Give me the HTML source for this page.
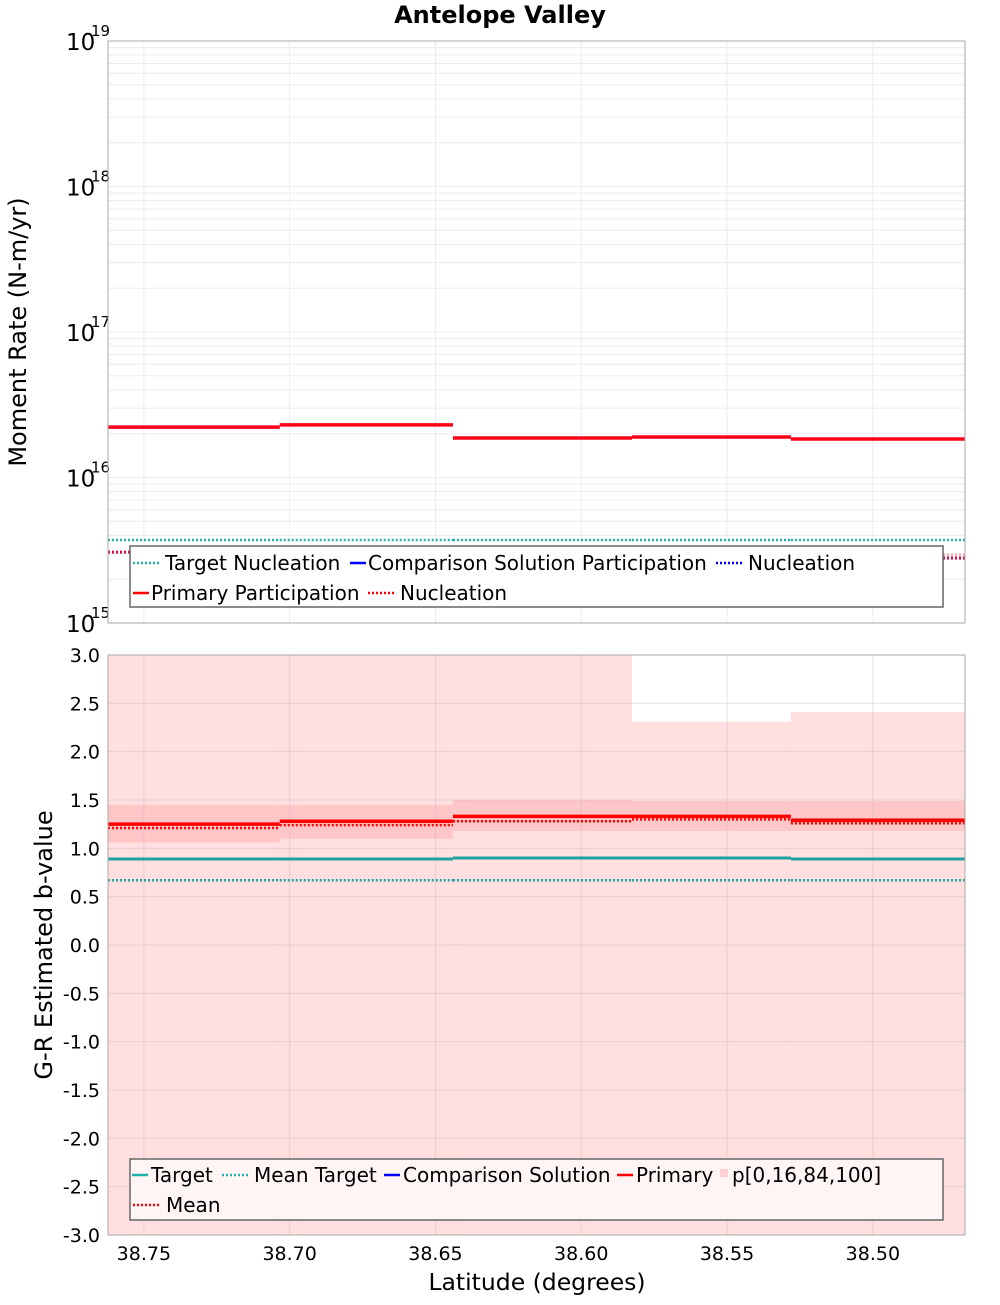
<!DOCTYPE html>
<html><head><meta charset="utf-8"><style>
html,body{margin:0;padding:0;background:#fff;}
svg text{font-family:"DejaVu Sans","Liberation Sans",sans-serif;}
</style></head><body>
<svg id="chart" width="1000" height="1300" xmlns="http://www.w3.org/2000/svg">
<text x="500" y="23" text-anchor="middle" font-size="24" font-weight="bold">Antelope Valley</text>
<g id="p1"></g>
<g id="p2"></g>
</svg>
<script>
// shared x data (latitude bin edges)
const binEdges = [38.7623, 38.7034, 38.6440, 38.5826, 38.5281, 38.4684];
const xTicks = [38.75, 38.70, 38.65, 38.60, 38.55, 38.50];
// panel 1: moment rates
const primaryPart = [2.22e16, 2.30e16, 1.87e16, 1.90e16, 1.84e16];
const nucleation = [3.07e15, 3.23e15, 2.93e15, 2.93e15, 2.93e15];
const targetNucleation = [3.72e15, 3.72e15, 3.72e15, 3.72e15, 3.72e15];
const logTicks = [15, 16, 17, 18, 19];
// panel 2: b-values
const bTarget = [0.89, 0.89, 0.90, 0.90, 0.89];
const bMeanTarget = [0.67, 0.67, 0.67, 0.67, 0.67];
const bPrimary = [1.25, 1.28, 1.33, 1.33, 1.29];
const bMean = [1.21, 1.24, 1.28, 1.30, 1.26];
const bP16 = [1.06, 1.10, 1.18, 1.18, 1.18];
const bP84 = [1.45, 1.45, 1.50, 1.49, 1.49];
const bP0 = [-3.0, -3.0, -3.0, -3.0, -3.0];
const bP100 = [3.0, 3.0, 3.0, 2.31, 2.41];
const bTicks = [3.0,2.5,2.0,1.5,1.0,0.5,0.0,-0.5,-1.0,-1.5,-2.0,-2.5,-3.0];

const NS="http://www.w3.org/2000/svg";
const L=108,R=965;
const xS=v=>L+(binEdges[0]-v)/(binEdges[0]-binEdges[5])*(R-L);
const P1T=41,P1B=623,P2T=655,P2B=1235;
const y1=v=>P1B-(Math.log10(v)-15)/4*(P1B-P1T);
const y2=v=>P2B-(v+3)/6*(P2B-P2T);
function mk(p,tag,a){const e=document.createElementNS(NS,tag);for(const k in a)e.setAttribute(k,a[k]);p.appendChild(e);return e;}
function steps(arr,yf){let d="";arr.forEach((v,i)=>{d+="M"+xS(binEdges[i])+","+yf(v)+"L"+xS(binEdges[i+1])+","+yf(v);});return d;}
const g1=document.getElementById('p1'),g2=document.getElementById('p2');

// panel 1 frame + grid
let e=mk(g1,'rect',{x:L,y:P1T,width:R-L,height:P1B-P1T,fill:'#fff'});


for(let d=15;d<19;d++)for(let m=1;m<10;m++){const yy=y1(m*Math.pow(10,d));mk(g1,'line',{x1:L,x2:R,y1:yy,y2:yy,stroke:'#ececec','stroke-width':1});}
xTicks.forEach(t=>{mk(g1,'line',{x1:xS(t),x2:xS(t),y1:P1T,y2:P1B,stroke:'#ececec'});});
logTicks.forEach(t=>{const yy=y1(Math.pow(10,t));
 const tx=mk(g1,'text',{x:66,y:yy+9,'font-size':23});tx.textContent="10";
 
 
 const s=mk(g1,'text',{x:91,y:yy-5,'font-size':15});s.textContent=String(t);});
e=mk(g1,'path',{d:steps(targetNucleation,y1),stroke:'#20b2aa',fill:'none','stroke-width':2.5,'stroke-dasharray':'2,2'});


e=mk(g1,'path',{d:steps(nucleation,y1),stroke:'#f7a8b8',fill:'none','stroke-width':3,'stroke-dasharray':'2,2'});


mk(g1,'line',{x1:L,x2:L+22,y1:y1(nucleation[0]),y2:y1(nucleation[0]),stroke:'#d0104a','stroke-width':3,'stroke-dasharray':'2,2'});
mk(g1,'line',{x1:R-22,x2:R,y1:y1(nucleation[4])+3,y2:y1(nucleation[4])+3,stroke:'#d0104a','stroke-width':3,'stroke-dasharray':'2,2'});
e=mk(g1,'path',{d:steps(primaryPart,y1),stroke:'#ff0019',fill:'none','stroke-width':3.5});


mk(g1,'rect',{x:L,y:P1T,width:R-L,height:P1B-P1T,fill:'none',stroke:'#aaa'});
e=mk(g1,'text',{x:26,y:332,'font-size':24,'text-anchor':'middle',transform:'rotate(-90 26 332)'});e.textContent="Moment Rate (N-m/yr)";


// legend 1
e=mk(g1,'rect',{x:130,y:546,width:813,height:61,fill:'#fff',stroke:'#666','stroke-width':1.5});


[[133,'#20b2aa',1,'Target Nucleation',165,570],[350,'#0000ff',0,'Comparison Solution Participation',368,570],[716,'#0000ff',1,'Nucleation',748,570],[133,'#ff0000',0,'Primary Participation',151,600],[368,'#ff0000',1,'Nucleation',400,600]].forEach(a=>{
 mk(g1,'line',{x1:a[0],x2:a[0]+(a[2]?28:16),y1:a[5]-7,y2:a[5]-7,stroke:a[1],'stroke-width':2.5,'stroke-dasharray':a[2]?'2,2':'none'});
 const t=mk(g1,'text',{x:a[4],y:a[5],'font-size':20});t.textContent=a[3];
 
 });

// panel 2
mk(g2,'rect',{x:L,y:P2T,width:R-L,height:P2B-P2T,fill:'#fff'});
bP0.forEach((v,i)=>{e=mk(g2,'rect',{x:xS(binEdges[i]),y:y2(bP100[i]),width:xS(binEdges[i+1])-xS(binEdges[i]),height:y2(v)-y2(bP100[i]),fill:'#ffdfe0'});
 
 });
bP16.forEach((v,i)=>{e=mk(g2,'rect',{x:xS(binEdges[i]),y:y2(bP84[i]),width:xS(binEdges[i+1])-xS(binEdges[i]),height:y2(v)-y2(bP84[i]),fill:'#ffc6c8'});
 
 });
bTicks.forEach(t=>{const yy=y2(t);mk(g2,'line',{x1:L,x2:R,y1:yy,y2:yy,stroke:'rgba(180,180,180,0.35)'});
 const tx=mk(g2,'text',{x:100,y:yy+7,'font-size':19,'text-anchor':'end'});tx.textContent=t.toFixed(1);
 
 });
xTicks.forEach(t=>{mk(g2,'line',{x1:xS(t),x2:xS(t),y1:P2T,y2:P2B,stroke:'rgba(180,180,180,0.35)'});
 const tx=mk(g2,'text',{x:xS(t),y:1260,'font-size':19,'text-anchor':'middle'});tx.textContent=t.toFixed(2);
 
 });
e=mk(g2,'path',{d:steps(bMeanTarget,y2),stroke:'#20a0a0',fill:'none','stroke-width':2.5,'stroke-dasharray':'2,2'});


e=mk(g2,'path',{d:steps(bTarget,y2),stroke:'#20a0a0',fill:'none','stroke-width':3});


e=mk(g2,'path',{d:steps(bMean,y2),stroke:'#ff0000',fill:'none','stroke-width':2.5,'stroke-dasharray':'2,2'});


e=mk(g2,'path',{d:steps(bPrimary,y2),stroke:'#ff0000',fill:'none','stroke-width':3.5});


mk(g2,'rect',{x:L,y:P2T,width:R-L,height:P2B-P2T,fill:'none',stroke:'#aaa'});
e=mk(g2,'text',{x:52,y:945,'font-size':24,'text-anchor':'middle',transform:'rotate(-90 52 945)'});e.textContent="G-R Estimated b-value";


e=mk(g2,'text',{x:537,y:1290,'font-size':23.5,'text-anchor':'middle'});e.textContent="Latitude (degrees)";


e=mk(g2,'rect',{x:130,y:1159,width:813,height:61,fill:'#fff5f5',stroke:'#666','stroke-width':1.5});


[[132,'#20b2aa',0,'Target',151,1182],[222,'#20b2aa',1,'Mean Target',254,1182],[384,'#0000ff',0,'Comparison Solution',403,1182],[617,'#ff0000',0,'Primary',636,1182],[133,'#ff0000',1,'Mean',166,1212]].forEach(a=>{
 mk(g2,'line',{x1:a[0],x2:a[0]+(a[2]?28:16),y1:a[5]-7,y2:a[5]-7,stroke:a[1],'stroke-width':2.5,'stroke-dasharray':a[2]?'2,2':'none'});
 const t=mk(g2,'text',{x:a[4],y:a[5],'font-size':20});t.textContent=a[3];
 
 });
mk(g2,'rect',{x:720,y:1169,width:8,height:8,fill:'#ffd0d2'});
e=mk(g2,'text',{x:732,y:1182,'font-size':20});e.textContent="p[0,16,84,100]";


</script>
</body></html>
